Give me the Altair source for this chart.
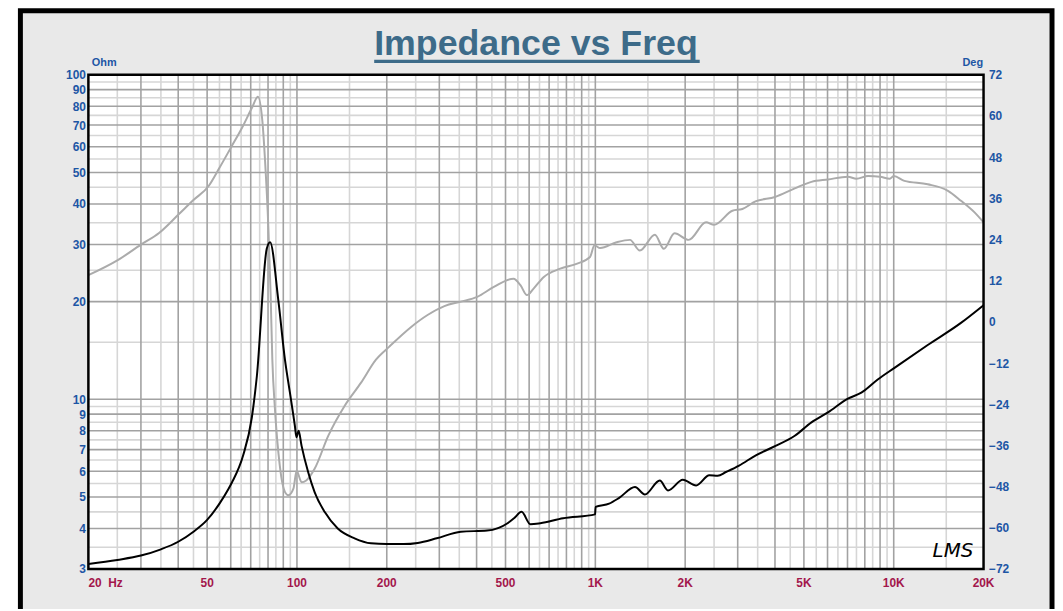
import altair as alt
import pandas as pd

# ---------------- data ----------------
imp_freq = [20, 25, 30, 35, 40, 45, 50, 55, 59, 60.6, 66, 70.6, 73.4, 79.2, 81.3,
            86.6, 91.2, 94.7, 98.4, 99.6, 101.3, 103.6, 109, 114.6, 123.8, 137, 156,
            177, 200, 228, 254, 294, 354, 434, 508, 534, 566, 606, 654, 780, 998,
            1002, 1112, 1202, 1358, 1466, 1644, 1752, 1964, 2177, 2410, 2570, 2740,
            3032, 3440, 4000, 4660, 5300, 6020, 7020, 7790, 8840, 10060, 13000,
            16800, 20000]
imp_ohm = [3.11, 3.2, 3.3, 3.45, 3.64, 3.91, 4.25, 4.77, 5.3, 5.55, 6.71, 8.79, 11.8,
           29.1, 30.5, 20.2, 13.2, 10.5, 8.29, 7.64, 8.0, 7.2, 5.97, 5.18, 4.5, 4.0,
           3.73, 3.6, 3.58, 3.58, 3.61, 3.73, 3.91, 3.94, 4.15, 4.3, 4.5, 4.12, 4.15,
           4.3, 4.42, 4.66, 4.77, 4.97, 5.37, 5.09, 5.62, 5.24, 5.65, 5.43, 5.83,
           5.81, 5.97, 6.25, 6.71, 7.17, 7.72, 8.49, 9.11, 10.05, 10.48, 11.51, 12.5,
           14.7, 17.2, 19.5]

ph_freq = [20, 25, 30, 34.5, 40, 45, 50.6, 55, 60, 65.4, 70.6, 74, 76.6, 78.2, 80.2,
           81.6, 82.7, 84.4, 87.6, 91.2, 93.6, 97.3, 99.8, 101, 103.6, 107.4, 114.6,
           127.3, 144.4, 164, 184, 204, 242, 274, 312, 354, 402, 457, 532, 561, 590,
           621, 672, 763, 869, 960, 993, 1038, 1178, 1306, 1410, 1584, 1696, 1843,
           2055, 2350, 2500, 2880, 3110, 3440, 4000, 4660, 5300, 6020, 7020, 7500,
           8200, 9000, 9700, 10000, 10860, 13000, 15200, 16800, 18660, 20000]
ph_deg = [13.6, 17.9, 22.5, 25.9, 31.2, 35.5, 39.6, 44.9, 50.7, 56.5, 62.3, 65.6,
          58.4, 46.8, 27.6, 8.3, -11, -25.5, -41.9, -49.6, -50.5, -48.6, -43.3,
          -44.3, -46.7, -46.2, -42.8, -33.2, -24.5, -17.7, -11, -7.2, -1.4, 2.0, 4.6,
          5.9, 7.3, 10.2, 12.6, 10.7, 7.8, 9.7, 13.1, 15.5, 17.0, 18.9, 22.3, 21.5,
          23.2, 23.9, 20.8, 25.4, 21.3, 25.8, 23.9, 29.0, 28.3, 32.4, 32.9, 35.1,
          36.4, 38.9, 40.8, 41.5, 42.3, 41.7, 42.5, 42.3, 41.7, 42.5, 41.1, 40.1,
          38.2, 35.3, 31.9, 29.0]

x_ticks = [20, 50, 100, 200, 500, 1000, 2000, 5000, 10000, 20000]
x_labels = ["20\u00a0\u00a0Hz", "50", "100", "200", "500", "1K", "2K", "5K", "10K", "20K"]
ohm_ticks = [3, 4, 5, 6, 7, 8, 9, 10, 20, 30, 40, 50, 60, 70, 80, 90, 100]
deg_ticks = [-72, -60, -48, -36, -24, -12, 0, 12, 24, 36, 48, 60, 72]

x_grid_light = [25, 35, 45, 55, 65, 75, 85, 95, 150, 250, 350, 450, 550, 650, 750,
                850, 950, 1500, 2500, 3500, 4500, 5500, 6500, 7500, 8500, 9500, 15000]
x_grid_dark = [30, 40, 50, 60, 70, 80, 90, 100, 200, 300, 400, 500, 600, 700, 800,
               900, 1000, 2000, 3000, 4000, 5000, 6000, 7000, 8000, 9000, 10000]
y_grid_light = [3.5, 4.5, 5.5, 6.5, 7.5, 8.5, 9.5, 15, 25, 35, 45, 55, 65, 75, 85, 95]
y_grid_dark = [4, 5, 6, 7, 8, 9, 10, 20, 30, 40, 50, 60, 70, 80, 90]

title_text = "Impedance vs Freq"
signature = "LMS"

# ---------------- styling ----------------
W, H = 902, 498
FONT = "Liberation Sans"
BLUE = "#1d56a5"
RED = "#a3174c"
TITLE_C = "#3d6b89"
PANEL = "#e9e9e9"

xs = alt.Scale(type="log", domain=[20, 20000], nice=False)
ys = alt.Scale(type="log", domain=[3, 100], nice=False)
ps = alt.Scale(type="linear", domain=[-72, 72], nice=False, zero=False)

one = pd.DataFrame({"k": [0]})
imp_df = pd.DataFrame({"f": imp_freq, "z": imp_ohm})
ph_df = pd.DataFrame({"f": ph_freq, "p": ph_deg})
xl_df = pd.DataFrame({"f": x_ticks, "t": x_labels})

frame = alt.Chart(one).mark_rect(fill=PANEL, stroke="black", strokeWidth=5).encode(
    x=alt.value(-68.5), x2=alt.value(971), y=alt.value(-64.5), y2=alt.value(H + 90))
plotbg = alt.Chart(one).mark_rect(fill="white").encode(
    x=alt.value(0), x2=alt.value(W), y=alt.value(0), y2=alt.value(H))


def xgrid(vals, color):
    return alt.Chart(pd.DataFrame({"f": vals})).mark_rule(color=color, strokeWidth=1.6).encode(
        x=alt.X("f:Q", scale=xs, axis=None))


def ygrid(vals, color):
    return alt.Chart(pd.DataFrame({"z": vals})).mark_rule(color=color, strokeWidth=1.6).encode(
        y=alt.Y("z:Q", scale=ys, axis=None))


phase = alt.Chart(ph_df).mark_line(color="#ababab", strokeWidth=2, interpolate="monotone").encode(
    x=alt.X("f:Q", scale=xs, axis=None),
    y=alt.Y("p:Q", scale=ps, axis=alt.Axis(
        orient="right", values=deg_ticks, format="d", title="Deg", titleAngle=0,
        titleAlign="right", titleBaseline="middle", titleX=-1, titleY=-12,
        titleFont=FONT, titleFontSize=11, titleFontWeight="bold", titleColor=BLUE,
        labelFont=FONT, labelFontSize=12, labelFontWeight="bold", labelColor=BLUE,
        labelPadding=5, ticks=False, domain=False, grid=False, labelOverlap=False,
        labelFlush=False, labelBound=False, zindex=1)),
)

y_axis = alt.Axis(
    orient="left", values=ohm_ticks, format="d", title="Ohm", titleAngle=0,
    titleAlign="left", titleBaseline="middle", titleX=3, titleY=-12,
    titleFont=FONT, titleFontSize=11, titleFontWeight="bold", titleColor=BLUE,
    labelFont=FONT, labelFontSize=12, labelFontWeight="bold", labelColor=BLUE,
    labelPadding=3, ticks=False, domain=False, grid=False, labelOverlap=False,
    labelFlush=False, labelBound=False, zindex=1)

imp = alt.Chart(imp_df).mark_line(color="black", strokeWidth=2, interpolate="monotone").encode(
    x=alt.X("f:Q", scale=xs, axis=None),
    y=alt.Y("z:Q", scale=ys, axis=y_axis),
)

# x tick labels (first one left-aligned like the reference)
xlab_first = alt.Chart(xl_df).transform_filter("datum.f == 20").mark_text(
    font=FONT, fontSize=12, fontWeight="bold", color=RED, align="left", baseline="middle"
).encode(x=alt.X("f:Q", scale=xs, axis=None), y=alt.value(H + 14), text="t:N")
xlab_rest = alt.Chart(xl_df).transform_filter("datum.f != 20").mark_text(
    font=FONT, fontSize=12, fontWeight="bold", color=RED, align="center", baseline="middle"
).encode(x=alt.X("f:Q", scale=xs, axis=None), y=alt.value(H + 14), text="t:N")

sig = alt.Chart(pd.DataFrame({"f": [15800], "z": [3.4], "t": [signature]})).mark_text(
    font="DejaVu Sans", fontSize=20, fontStyle="italic", fontWeight=200, color="black"
).encode(x=alt.X("f:Q", scale=xs, axis=None), y=alt.Y("z:Q", scale=ys, axis=None), text="t:N")

border = alt.Chart(one).mark_rect(fillOpacity=0, stroke="black", strokeWidth=2.5).encode(
    x=alt.value(0), x2=alt.value(W), y=alt.value(0), y2=alt.value(H))

title = alt.Chart(pd.DataFrame({"t": [title_text]})).mark_text(
    font=FONT, fontSize=36, fontWeight="bold", color=TITLE_C, align="center",
    baseline="alphabetic").encode(x=alt.value(W / 2), y=alt.value(-20), text="t:N")

underline = alt.Chart(one).mark_rule(color=TITLE_C, strokeWidth=3.5).encode(
    x=alt.value(288), x2=alt.value(616), y=alt.value(-13.5))

chart = alt.layer(
    frame, plotbg,
    xgrid(x_grid_light, "#d6d6d6"), ygrid(y_grid_light, "#d6d6d6"),
    xgrid(x_grid_dark, "#a2a2a2"), ygrid(y_grid_dark, "#a2a2a2"),
    phase, imp, sig, border, xlab_first, xlab_rest, title, underline,
).resolve_scale(y="independent").properties(
    width=W, height=H,
    padding={"left": 81, "top": 65, "right": 72, "bottom": 38},
    autosize=alt.AutoSizeParams(type="none"),
    background="white",
).configure_view(strokeWidth=0)

chart.save("out.html", embed_options={"renderer": "svg", "actions": False})
